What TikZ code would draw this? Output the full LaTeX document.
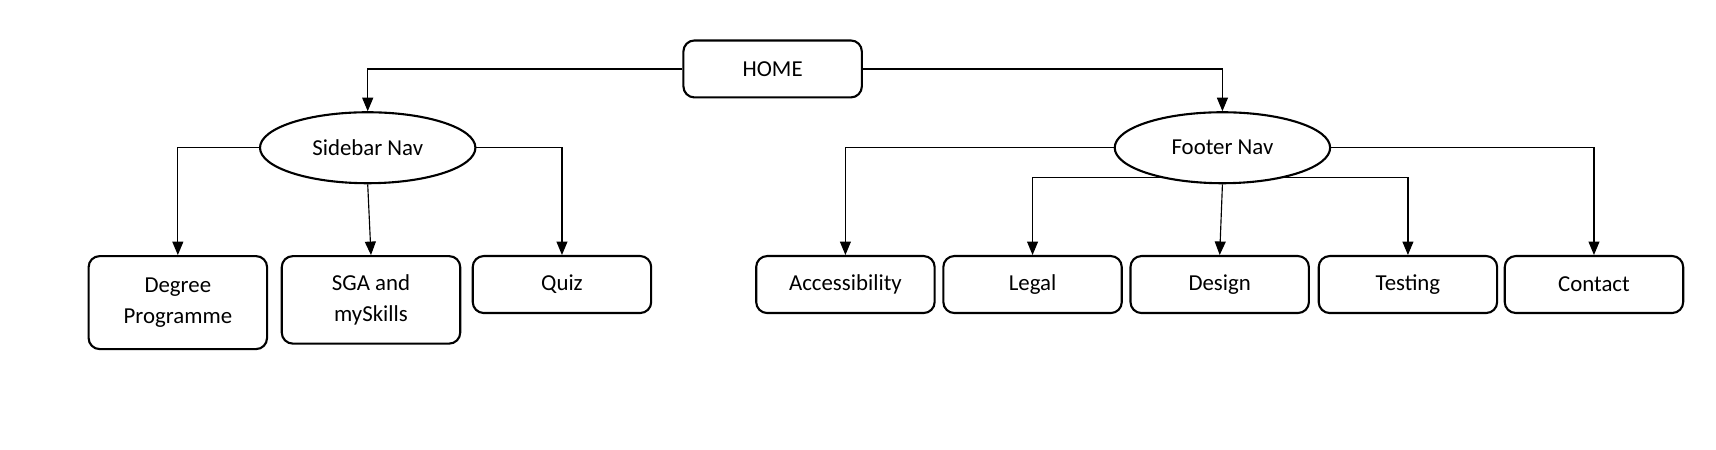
\documentclass[tikz,border=0pt]{standalone}
\usepackage{fontspec}
\setmainfont{Carlito}
\usetikzlibrary{shapes.geometric,arrows.meta}

\begin{document}
\begin{tikzpicture}[x=0.02189cm, y=-0.02189cm]
\tikzset{boite/.style={draw, rounded corners=0.22cm, line width=1.2pt, minimum width=3.57cm, minimum height=1.14cm, inner sep=0pt, align=center, font=\fontsize{13}{17.5}\selectfont},
ovale/.style={draw, ellipse, line width=1.2pt, minimum width=4.31cm, minimum height=1.42cm, inner sep=0pt, font=\fontsize{13}{17.5}\selectfont},
fleche/.style={-{Triangle[length=0.27cm, width=0.22cm]}, line width=0.65pt}}
\useasboundingbox (0,0) rectangle (1568,410.3);
\node[boite] (home) at (706,63) {HOME};
\node[ovale] (sidebar) at (336,135) {Sidebar Nav};
\node[ovale] (footer) at (1117,135) {Footer Nav};
\node[boite, minimum height=1.86cm] (degree) at (162.5,276.5) {Degree\\Programme};
\node[boite, minimum height=1.75cm] (sga) at (339,274) {SGA and\\mySkills};
\node[boite] (quiz) at (513.5,260) {Quiz};
\node[boite] (access) at (772.5,260) {Accessibility};
\node[boite] (legal) at (943.5,260) {Legal};
\node[boite] (design) at (1114.5,260) {Design};
\node[boite] (testing) at (1286.5,260) {Testing};
\node[boite] (contact) at (1456.5,260) {Contact};
\draw[fleche] (home.west) -| (sidebar.north);
\draw[fleche] (home.east) -| (footer.north);
\draw[fleche] (sidebar.west) -| (degree.north);
\draw[fleche] (sidebar.south) -- (sga.north);
\draw[fleche] (sidebar.east) -| (quiz.north);
\draw[fleche] (footer.west) -| (access.north);
\draw[fleche] (footer.206) -| (legal.north);
\draw[fleche] (footer.south) -- (design.north);
\draw[fleche] (footer.334) -| (testing.north);
\draw[fleche] (footer.east) -| (contact.north);
\end{tikzpicture}
\end{document}
